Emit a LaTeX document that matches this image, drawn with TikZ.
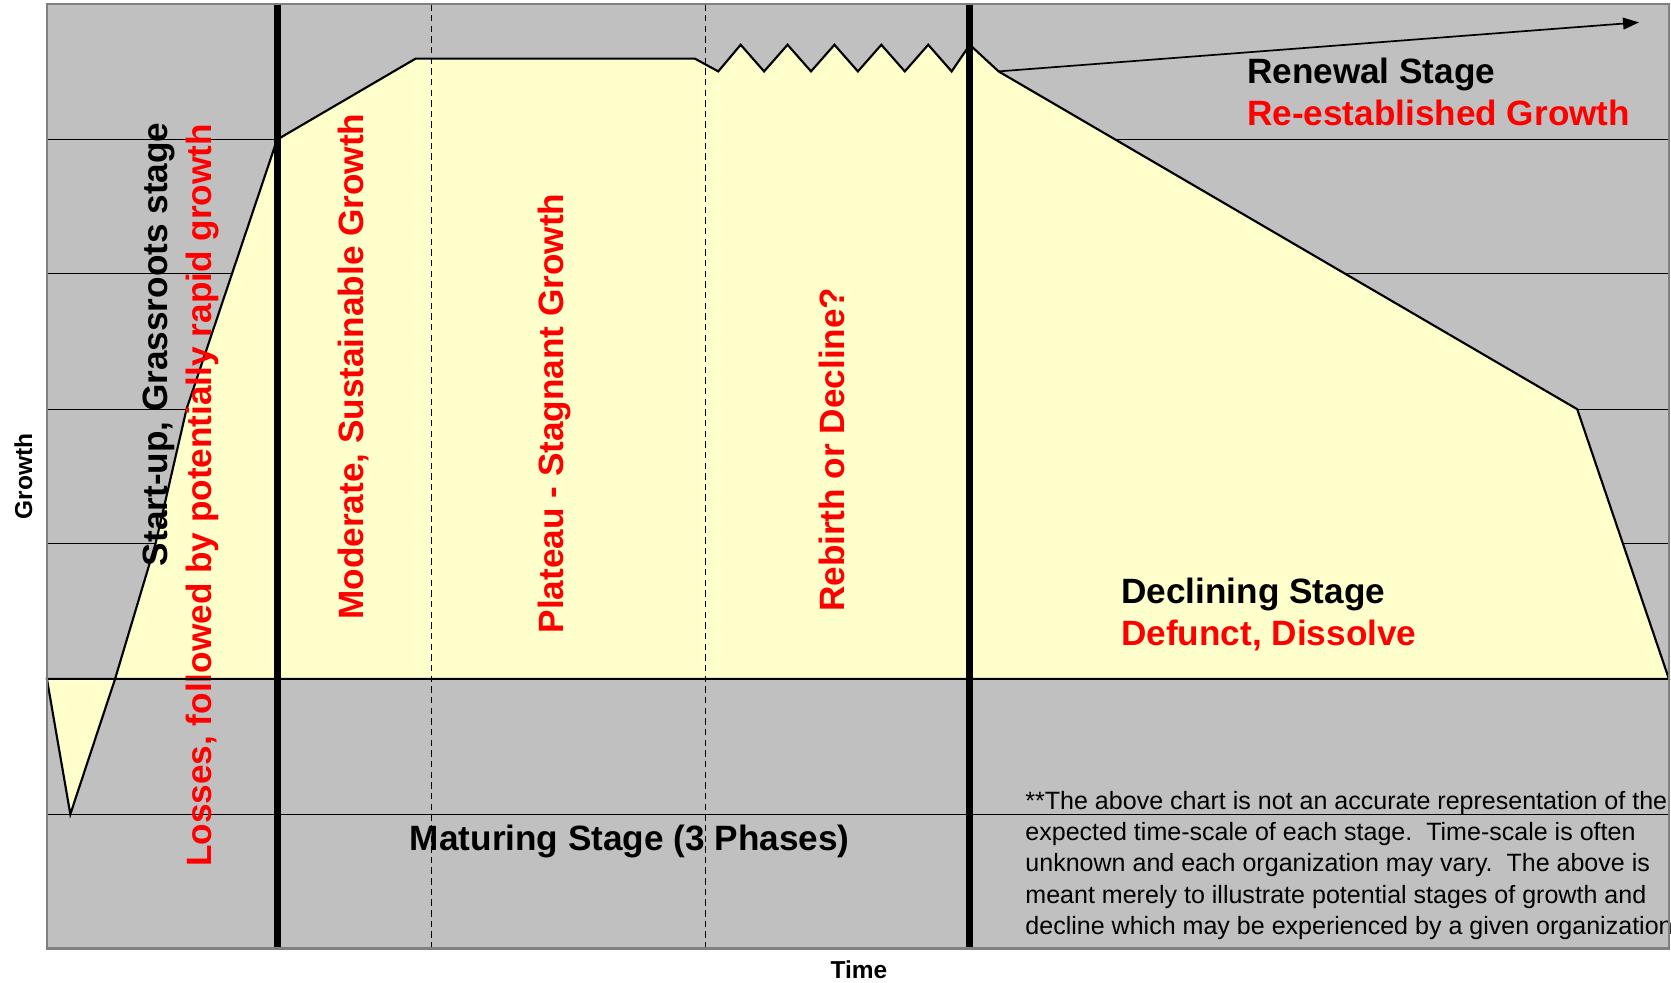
\documentclass[tikz,border=0pt]{standalone}
\usepackage{fontspec}
\setmainfont{Liberation Sans}
\usepackage{xcolor}
\usepackage{tikz}
\usetikzlibrary{
  arrows.meta,
  positioning,
}
\definecolor{plotgray}{HTML}{C0C0C0}
\definecolor{framegray}{HTML}{808080}
\definecolor{stagefill}{HTML}{FFFFCC}
\definecolor{stagered}{HTML}{FF0000}

\begin{document}
\begin{tikzpicture}[
    x=1pt, y=-1pt,
    gridline/.style={draw=black, line width=0.9pt},
    phaseline/.style={draw=black, line width=6.5pt},
    subphase/.style={draw=black, line width=1.5pt, dash pattern=on 6pt off 4pt},
    curve/.style={draw=black, line width=2pt, line join=miter},
    bigtext/.style={font=\fontsize{33}{40}\selectfont\bfseries, inner sep=0pt},
    vtext/.style={bigtext, rotate=90},
    axistext/.style={font=\fontsize{23}{28}\selectfont\bfseries, inner sep=0pt},
    note/.style={font=\fontsize{23.5}{29.4}\selectfont, inner sep=0pt, align=left},
  ]
  \useasboundingbox (0,0) rectangle (1568,922.4);

  % plot area and grid
  \fill[plotgray] (44,4) rectangle (1566,890);
  \foreach \gy in {131,257,384,510,764}
    \draw[gridline] (44,\gy) -- (1566,\gy);

  % growth curve
  \coordinate (c0)  at (44,637);
  \coordinate (c1)  at (66,764);
  \coordinate (c2)  at (108,637);
  \coordinate (c3)  at (146,510);
  \coordinate (c4)  at (175,384);
  \coordinate (c5)  at (260,131);
  \coordinate (c6)  at (390,55);
  \coordinate (c7)  at (652,55);
  \coordinate (c8)  at (674,67);
  \coordinate (peak) at (910,42);
  \coordinate (c9)  at (937,67);
  \coordinate (c10) at (1480,384);
  \coordinate (c11) at (1566,637);
  \coordinate (renew) at (1538,21);

  \filldraw[curve, fill=stagefill] (c0) -- (c1) -- (c2) -- (c3) -- (c4) -- (c5)
    -- (c6) -- (c7) -- (c8)
    \foreach \i in {0,...,4} { -- ({695+44*\i},42) -- ({717+44*\i},67) }
    -- (peak) -- (c9) -- (c10) -- (c11) -- cycle;

  % stage labels
  \node[vtext] (startup) at (149,323) {Start-up, Grassroots stage};
  \node[vtext, text=stagered] (losses) at (190,465) {Losses, followed by potentially rapid growth};
  \node[vtext, text=stagered] (moderate) at (332,344) {Moderate, Sustainable Growth};
  \node[vtext, text=stagered] (plateau) at (520,388) {Plateau - Stagnant Growth};
  \node[vtext, text=stagered] (rebirth) at (781,422) {Rebirth or Decline?};

  \node[bigtext, anchor=base west] (renewal) at (1170,78) {Renewal Stage};
  \node[bigtext, anchor=base west, text=stagered] (reest) at (1170,118) {Re-established Growth};
  \node[bigtext, anchor=base west] (declining) at (1052,566) {Declining Stage};
  \node[bigtext, anchor=base west, text=stagered] (defunct) at (1052,606) {Defunct, Dissolve};
  \node[bigtext, anchor=base] (maturing) at (591,798) {Maturing Stage (3 Phases)};

  \node[note, anchor=north west] (footnote) at (962,742)
    {**The above chart is not an accurate representation of the\\
     expected time-scale of each stage.\ \ Time-scale is often\\
     unknown and each organization may vary.\ \ The above is\\
     meant merely to illustrate potential stages of growth and\\
     decline which may be experienced by a given organization};

  \node[axistext, rotate=90] (ylabel) at (22,447) {Growth};
  \node[axistext] (xlabel) at (806,910) {Time};

  % zero line and phase boundaries
  \draw[line width=2pt] (c0) -- (c11);
  \draw[phaseline] (260,4) -- (260,890);
  \draw[phaseline] (910,4) -- (910,890);
  \draw[subphase] (405,4) -- (405,890);
  \draw[subphase] (662,4) -- (662,890);
  \draw[framegray, line width=2pt] (44,4) rectangle (1566,890);

  \draw[line width=1.6pt, -{Triangle[length=15pt, width=11pt]}] (c9) -- (renew);
\end{tikzpicture}
\end{document}
